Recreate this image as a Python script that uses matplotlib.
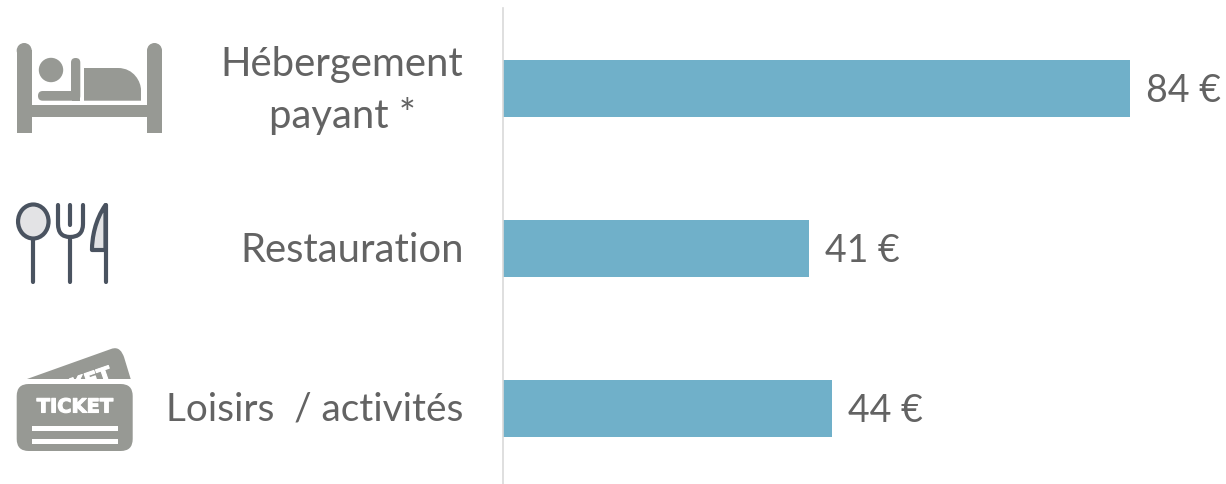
import matplotlib
matplotlib.use("Agg")
import matplotlib.pyplot as plt
import matplotlib.patheffects as pe
from matplotlib.patches import Circle, Ellipse, FancyBboxPatch, Rectangle, PathPatch
from matplotlib.path import Path

categories = ["Hébergement\npayant *", "Restauration", "Loisirs  / activités"]
values = [84, 41, 44]
value_labels = ["84 €", "41 €", "44 €"]

W, H = 1226, 484
BAR = "#70B0C9"
TEXT = "#636363"
GREY = "#979994"
DARK = "#4A5360"
LIGHT = "#E3E3E5"
FS_VALUE = 27

plt.rcParams["font.family"] = ["Lato", "DejaVu Sans"]
fig = plt.figure(figsize=(W / 100, H / 100), dpi=100, facecolor="white")

# Bar panel: one data unit spans about 7.46 px
left, top = 503.5, 8
ax = fig.add_axes([left / W, 0, (W - left) / W, (H - top) / H])
ax.barh(range(3), values, height=57 / 160, color=BAR, left=0)
ax.set_xlim(0, (W - left) / 7.46)
ax.set_ylim(2.475, -0.5)
ax.set_xticks([])
ax.set_yticks([])
for side in ("top", "right", "bottom"):
    ax.spines[side].set_visible(False)
ax.spines["left"].set_color("#D9D9D9")
ax.spines["left"].set_linewidth(1.2)

# Category labels sit left of the axis line, nudged onto the bar centres
label_size = [28.8, 28.8, 27.9]
label_lift = [-2.5, -2, -1.5]
for i, cat in enumerate(categories):
    ax.annotate(cat, (0, i), xytext=(-40 * 0.72, label_lift[i] * 0.72), textcoords="offset points",
                ha="right", va="center", multialignment="center", linespacing=1.42,
                fontsize=label_size[i], color=TEXT, annotation_clip=False)
for i, (v, lab) in enumerate(zip(values, value_labels)):
    ax.annotate(lab, (v, i), xytext=(16 * 0.72, -2.5 * 0.72), textcoords="offset points",
                va="center", ha="left", fontsize=FS_VALUE, color=TEXT)

# Icon layer in pixel coordinates
ic = fig.add_axes([0, 0, 1, 1], zorder=3)
ic.set_xlim(0, W)
ic.set_ylim(H, 0)
ic.axis("off")
ic.patch.set_alpha(0)


def rrect(x0, y0, x1, y1, r, color, **kw):
    p = FancyBboxPatch((x0 + r, y0 + r), x1 - x0 - 2 * r, y1 - y0 - 2 * r,
                       boxstyle=f"round,pad={r},rounding_size={r}",
                       fc=color, ec="none", **kw)
    ic.add_patch(p)
    return p


# Bed
for x0, x1 in ((16.7, 31.7), (147, 162)):
    ic.add_patch(Rectangle((x0, 50), x1 - x0, 82.5, fc=GREY, ec="none"))
    ic.add_patch(Circle(((x0 + x1) / 2, 50.5), 7.5, fc=GREY, ec="none"))
ic.add_patch(Rectangle((30, 105), 120, 12, fc=GREY, ec="none"))
ic.add_patch(Circle((51, 70), 12.2, fc=GREY, ec="none"))
rrect(71, 58, 80.3, 100.7, 4.6, GREY)
rrect(38, 91, 78, 100.7, 4.8, GREY)
ic.add_patch(Rectangle((72, 91), 8.3, 9.7, fc=GREY, ec="none"))
blanket = Path(
    [(84, 68), (118, 68), (134, 68), (141, 82), (141, 90), (141, 100.7), (84, 100.7), (84, 68)],
    [Path.MOVETO, Path.LINETO, Path.CURVE4, Path.CURVE4, Path.CURVE4, Path.LINETO, Path.LINETO, Path.CLOSEPOLY],
)
ic.add_patch(PathPatch(blanket, fc=GREY, ec="none"))

# Spoon, fork and knife
LW = 3.0
ic.add_patch(Ellipse((33.3, 221.5), 30.5, 34, fc=LIGHT, ec=DARK, lw=LW))
ic.plot([33.3, 33.3], [239, 282], color=DARK, lw=LW, solid_capstyle="round")
fork = Path(
    [(58, 205), (58, 224), (58, 237), (70, 237), (83, 237), (83, 224), (83, 205)],
    [Path.MOVETO, Path.LINETO, Path.CURVE3, Path.CURVE3, Path.CURVE3, Path.CURVE3, Path.LINETO],
)
ic.add_patch(PathPatch(fork, fc="none", ec=DARK, lw=LW, capstyle="round"))
ic.plot([70, 70], [205, 225], color=DARK, lw=LW, solid_capstyle="round")
ic.plot([70, 70], [237, 282], color=DARK, lw=LW, solid_capstyle="round")
knife = Path(
    [(105.5, 205), (95, 220), (92, 238), (92, 250), (105.5, 250), (105.5, 205)],
    [Path.MOVETO, Path.CURVE4, Path.CURVE4, Path.CURVE4, Path.LINETO, Path.CLOSEPOLY],
)
ic.add_patch(PathPatch(knife, fc=LIGHT, ec=DARK, lw=LW, joinstyle="round"))
ic.plot([105.5, 105.5], [205, 282], color=DARK, lw=LW, solid_capstyle="round")

# Tickets
back = Path(
    [(27, 379), (111, 349), (119, 346), (122, 352), (124, 357), (130.7, 379), (27, 379)],
    [Path.MOVETO, Path.LINETO, Path.CURVE4, Path.CURVE4, Path.LINETO, Path.LINETO, Path.CLOSEPOLY],
)
ic.add_patch(PathPatch(back, fc=GREY, ec="none"))
heavy = [pe.withStroke(linewidth=0.8, foreground="white")]
t = ic.text(74, 387, "TICKET", rotation=19, rotation_mode="anchor", ha="center", va="center",
            color="white", fontsize=14.5, fontweight="bold", family="DejaVu Sans",
            path_effects=heavy)
t.set_clip_on(True)
t.set_clip_path(Rectangle((20, 340), 115, 39, transform=ic.transData))
rrect(16.7, 384, 132.7, 451, 12, GREY)
ic.text(75, 407, "TICKET", ha="center", va="center", color="white",
        fontsize=14, fontweight="bold", family="DejaVu Sans", path_effects=heavy)
ic.add_patch(Rectangle((32, 426), 86, 5, fc="white", ec="none"))
ic.add_patch(Rectangle((32, 439), 86, 5, fc="white", ec="none"))

fig.savefig("out.png", dpi=100, facecolor="white")
